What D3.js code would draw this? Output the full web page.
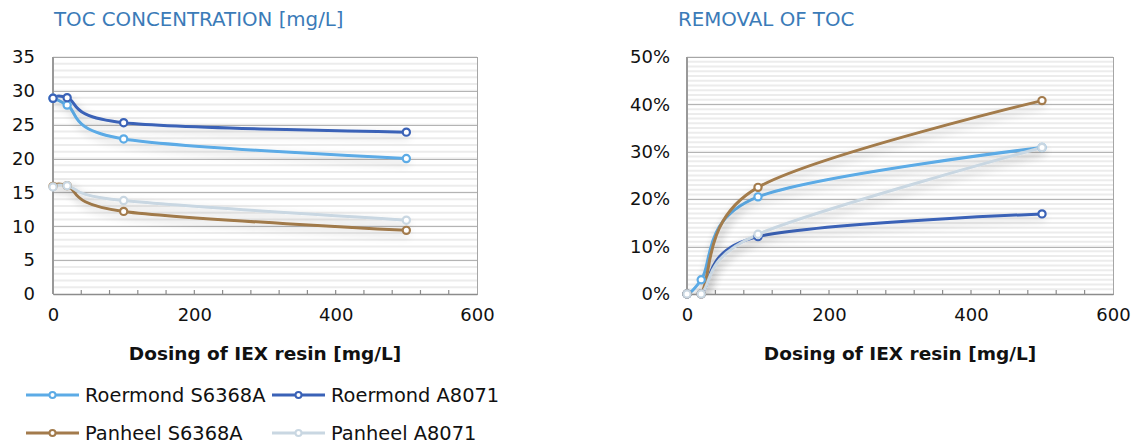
<!DOCTYPE html>
<html>
<head>
<meta charset="utf-8">
<script src="https://cdnjs.cloudflare.com/ajax/libs/d3/7.8.5/d3.min.js"></script>
<style>
  html, body { margin: 0; padding: 0; background: #fff; }
  svg { display: block; font-family: "DejaVu Sans", sans-serif; }
</style>
</head>
<body>
<svg id="chart" width="1137" height="446"></svg>
<script>
// Resin dose (mg/L) sampled for every series
const doses = [0, 20, 100, 500];

// Series names and colours
const seriesNames = ["Roermond S6368A", "Roermond A8071", "Panheel S6368A", "Panheel A8071"];
const seriesColors = ["#5cabe6", "#3a62b7", "#a37b4c", "#c9d7e2"];

// TOC concentration [mg/L]
const tocRoermondS6368A = [28.9, 27.9, 22.9, 20.0];
const tocRoermondA8071  = [28.9, 29.0, 25.3, 23.9];
const tocPanheelS6368A  = [15.9, 16.0, 12.2, 9.4];
const tocPanheelA8071   = [15.8, 16.0, 13.8, 10.9];

// Removal of TOC (fraction)
const remRoermondS6368A = [0, 0.030, 0.205, 0.309];
const remRoermondA8071  = [0, 0.000, 0.121, 0.169];
const remPanheelS6368A  = [0, 0.000, 0.225, 0.408];
const remPanheelA8071   = [0, 0.000, 0.126, 0.309];

// Axis ticks
const xTicks = [0, 200, 400, 600];
const xMinorTicks = d3.range(40, 600, 40);
const tocTicks = [0, 5, 10, 15, 20, 25, 30, 35];
const remTicks = [0, 0.1, 0.2, 0.3, 0.4, 0.5];

const svg = d3.select("#chart");

// Soft shadow behind the series lines
const defs = svg.append("defs");
const shadow = defs.append("filter").attr("id", "lineShadow")
  .attr("x", "-20%").attr("y", "-40%").attr("width", "140%").attr("height", "180%");
shadow.append("feGaussianBlur").attr("in", "SourceAlpha").attr("stdDeviation", 5).attr("result", "b");
shadow.append("feOffset").attr("in", "b").attr("dx", 2).attr("dy", 4).attr("result", "o");
shadow.append("feComponentTransfer").attr("in", "o").attr("result", "s")
  .append("feFuncA").attr("type", "linear").attr("slope", 0.22);
const merge = shadow.append("feMerge");
merge.append("feMergeNode").attr("in", "s");
merge.append("feMergeNode").attr("in", "SourceGraphic");

function drawPanel(opts) {
  const { id, title, titleX, x0, x1, y0, y1, yMax, yTicks, yMinorStep, yFormat, series, labelRight } = opts;
  const g = svg.append("g");
  const x = d3.scaleLinear().domain([0, 600]).range([x0, x1]);
  const y = d3.scaleLinear().domain([0, yMax]).range([y0, y1]);

  // Title
  g.append("text").attr("x", titleX).attr("y", 26)
    .attr("fill", "#3b7bb8").attr("font-size", 19.8).text(title);

  // Minor horizontal stripes
  const minor = d3.range(0, yMax + 1e-9, yMinorStep).filter(v => v > 0);
  g.append("g").selectAll("line").data(minor).join("line")
    .attr("x1", x0).attr("x2", x1)
    .attr("y1", d => y(d)).attr("y2", d => y(d))
    .attr("stroke", "#ececec").attr("stroke-width", 2);

  // Major gridlines
  g.append("g").selectAll("line").data(yTicks.filter(v => v > 0)).join("line")
    .attr("x1", x0).attr("x2", x1)
    .attr("y1", d => Math.round(y(d)) + 0.5).attr("y2", d => Math.round(y(d)) + 0.5)
    .attr("stroke", "#b4b4b4").attr("stroke-width", 1);

  // Plot frame
  g.append("rect").attr("x", x0 + 0.5).attr("y", y1 + 0.5)
    .attr("width", x1 - x0).attr("height", y0 - y1)
    .attr("fill", "none").attr("stroke", "#a6a6a6").attr("stroke-width", 1);
  g.append("line").attr("x1", x0).attr("x2", x0).attr("y1", y1).attr("y2", y0)
    .attr("stroke", "#999").attr("stroke-width", 2);

  // X axis with minor ticks pointing into the plot
  const xAxis = d3.axisBottom(x).tickValues(xTicks).tickSize(0).tickPadding(14);
  const ax = g.append("g").attr("transform", `translate(0,${y0})`).call(xAxis);
  ax.select(".domain").attr("stroke", "#8c8c8c").attr("stroke-width", 1.5);
  ax.selectAll("text").attr("font-size", 18).attr("fill", "#111")
    .attr("font-family", "DejaVu Sans, sans-serif");
  g.append("g").selectAll("line").data(xMinorTicks).join("line")
    .attr("x1", d => x(d)).attr("x2", d => x(d))
    .attr("y1", y0).attr("y2", y0 - 4)
    .attr("stroke", "#8c8c8c").attr("stroke-width", 1.2);

  // Y axis labels
  const yAxis = d3.axisLeft(y).tickValues(yTicks).tickSize(0).tickFormat(yFormat);
  const ay = g.append("g").attr("transform", `translate(${labelRight},0)`).call(yAxis);
  ay.select(".domain").remove();
  ay.selectAll("text").attr("font-size", 18).attr("fill", "#111")
    .attr("x", 0).attr("font-family", "DejaVu Sans, sans-serif");

  // X axis title
  g.append("text").attr("x", (x0 + x1) / 2).attr("y", 360)
    .attr("text-anchor", "middle").attr("font-weight", "bold")
    .attr("font-size", 18.5).attr("fill", "#111").text("Dosing of IEX resin [mg/L]");

  // Clip lines to the plot area
  defs.append("clipPath").attr("id", "clip-" + id)
    .append("rect").attr("x", x0).attr("y", y1).attr("width", x1 - x0).attr("height", y0 - y1);

  const line = d3.line()
    .x((d, i) => x(doses[i])).y(d => y(d))
    .curve(d3.curveCatmullRom.alpha(0));

  const lines = g.append("g").attr("clip-path", `url(#clip-${id})`);
  series.forEach((vals, k) => {
    lines.append("path").datum(vals)
      .attr("d", line).attr("fill", "none")
      .attr("stroke", seriesColors[k]).attr("stroke-width", 3)
      .attr("stroke-linejoin", "round").attr("stroke-linecap", "round")
      .attr("filter", "url(#lineShadow)");
  });
  series.forEach((vals, k) => {
    g.append("g").selectAll("circle").data(vals).join("circle")
      .attr("cx", (d, i) => x(doses[i])).attr("cy", d => y(d))
      .attr("r", 3.6).attr("fill", "#fff")
      .attr("stroke", seriesColors[k]).attr("stroke-width", 2.2);
  });
}

drawPanel({
  id: "toc", title: "TOC CONCENTRATION [mg/L]", titleX: 54,
  x0: 53, x1: 477, y0: 294, y1: 57, yMax: 35,
  yTicks: tocTicks, yMinorStep: 1, yFormat: d3.format("d"),
  series: [tocRoermondS6368A, tocRoermondA8071, tocPanheelS6368A, tocPanheelA8071],
  labelRight: 35
});

drawPanel({
  id: "rem", title: "REMOVAL OF TOC", titleX: 678,
  x0: 687, x1: 1113, y0: 294, y1: 57, yMax: 0.5,
  yTicks: remTicks, yMinorStep: 0.01, yFormat: d3.format(".0%"),
  series: [remRoermondS6368A, remRoermondA8071, remPanheelS6368A, remPanheelA8071],
  labelRight: 670
});

// Legend (two columns, two rows)
const legendPos = [[26, 395], [272, 395], [26, 433], [272, 433]];
const legend = svg.append("g");
seriesNames.forEach((name, k) => {
  const [lx, ly] = legendPos[k];
  const item = legend.append("g").attr("transform", `translate(${lx},${ly})`);
  item.append("line").attr("x1", 0).attr("x2", 53).attr("y1", 0).attr("y2", 0)
    .attr("stroke", seriesColors[k]).attr("stroke-width", 3);
  item.append("circle").attr("cx", 26.5).attr("cy", 0).attr("r", 3)
    .attr("fill", "#fff").attr("stroke", seriesColors[k]).attr("stroke-width", 2);
  item.append("text").attr("x", 59).attr("y", 0).attr("dy", "0.36em")
    .attr("font-size", 19.4).attr("fill", "#111").text(name);
});
</script>
</body>
</html>
